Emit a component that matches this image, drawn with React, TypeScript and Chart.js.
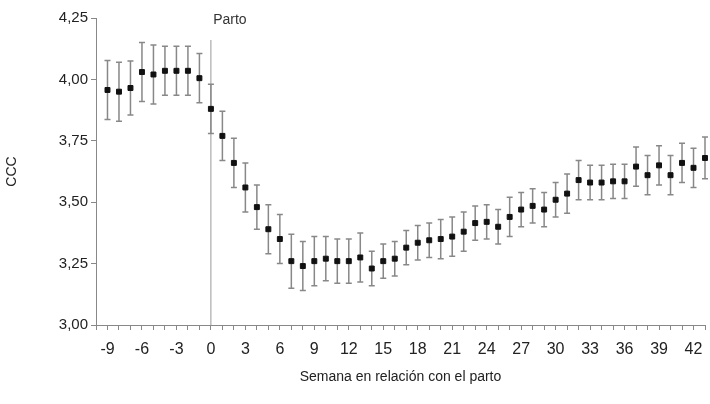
import React, { useEffect, useRef } from 'react';
import { Chart, registerables } from 'chart.js';

Chart.register(...registerables);

const weeks = Array.from({ length: 53 }, (_, i) => i - 9);
const ccc = [
  3.957, 3.95, 3.965, 4.03, 4.02, 4.035, 4.035, 4.035, 4.005,
  3.88, 3.77, 3.66, 3.56, 3.48, 3.39, 3.35, 3.26, 3.24, 3.26, 3.27, 3.26, 3.26, 3.275,
  3.23, 3.26, 3.27, 3.315, 3.335, 3.345, 3.35, 3.36, 3.38, 3.415, 3.42, 3.4, 3.44,
  3.47, 3.485, 3.47, 3.51, 3.535, 3.59, 3.58, 3.58, 3.585, 3.585, 3.645, 3.61, 3.65,
  3.61, 3.66, 3.64, 3.68,
];
const errs = [
  0.12, 0.12, 0.11, 0.12, 0.12, 0.1, 0.1, 0.1, 0.1,
  0.1, 0.1, 0.1, 0.1, 0.09, 0.1, 0.1, 0.11, 0.1, 0.1, 0.09, 0.09, 0.09, 0.1,
  0.07, 0.07, 0.07, 0.07, 0.07, 0.07, 0.08, 0.08, 0.08, 0.07, 0.07, 0.07, 0.08,
  0.07, 0.07, 0.07, 0.07, 0.08, 0.08, 0.07, 0.07, 0.07, 0.07, 0.08, 0.08, 0.08,
  0.08, 0.08, 0.08, 0.085,
];

const fontFamily = '"Liberation Sans", Arial, sans-serif';

const errorBars = {
  id: 'errorBars',
  beforeDatasetsDraw(chart: Chart) {
    const { ctx, scales } = chart;
    const x = scales.x;
    const y = scales.y;
    ctx.save();
    // Parto line
    ctx.strokeStyle = '#999';
    ctx.lineWidth = 1;
    ctx.beginPath();
    ctx.moveTo(x.getPixelForValue(0), 40);
    ctx.lineTo(x.getPixelForValue(0), y.bottom);
    ctx.stroke();
    ctx.fillStyle = '#333';
    ctx.font = `14px ${fontFamily}`;
    ctx.textAlign = 'center';
    ctx.fillText('Parto', x.getPixelForValue(0) + 19, 24);
    // error bars
    ctx.strokeStyle = '#888';
    ctx.lineWidth = 1.5;
    weeks.forEach((w, i) => {
      const px = x.getPixelForValue(w);
      const top = y.getPixelForValue(ccc[i] + errs[i]);
      const bot = y.getPixelForValue(ccc[i] - errs[i]);
      ctx.beginPath();
      ctx.moveTo(px, top);
      ctx.lineTo(px, bot);
      ctx.moveTo(px - 3, top);
      ctx.lineTo(px + 3, top);
      ctx.moveTo(px - 3, bot);
      ctx.lineTo(px + 3, bot);
      ctx.stroke();
    });
    ctx.restore();
  },
};

const App: React.FC = () => {
  const chartRef = useRef<HTMLCanvasElement>(null);
  const chartInstance = useRef<Chart>();

  useEffect(() => {
    document.body.style.margin = '0';
    if (chartRef.current) {
      chartInstance.current = new Chart(chartRef.current, {
        type: 'scatter',
        data: {
          datasets: [
            {
              data: weeks.map((w, i) => ({ x: w, y: ccc[i] })),
              pointStyle: 'rect',
              pointRadius: 3.5,
              backgroundColor: '#111',
              borderColor: '#111',
              clip: false,
            },
          ],
        },
        options: {
          animation: false,
          responsive: false,
          layout: { padding: { top: 18, right: 0, left: 0, bottom: 14 } },
          plugins: { legend: { display: false }, tooltip: { enabled: false } },
          scales: {
            x: {
              type: 'linear',
              min: -10,
              max: 43,
              afterFit: (s: any) => {
                s.height = 65;
                s.paddingRight = 0;
                s.paddingLeft = 0;
              },
              border: { color: '#888' },
              grid: { drawOnChartArea: false, drawTicks: true, tickLength: 5, color: '#888' },
              ticks: {
                stepSize: 1,
                autoSkip: false,
                maxRotation: 0,
                padding: 10,
                color: '#222',
                font: { family: fontFamily, size: 16 },
                callback: (v: any) => (Number(v) % 3 === 0 ? String(v) : ''),
              },
              title: {
                display: true,
                text: 'Semana en relación con el parto',
                color: '#222',
                font: { family: fontFamily, size: 14 },
                padding: { top: 6 },
              },
            },
            y: {
              min: 3,
              max: 4.25,
              afterFit: (s: any) => { s.width = 96; },
              border: { color: '#888' },
              grid: { drawOnChartArea: false, drawTicks: true, tickLength: 5, color: '#888' },
              ticks: {
                stepSize: 0.25,
                color: '#222',
                font: { family: fontFamily, size: 15 },
                callback: (v: any) => Number(v).toFixed(2).replace('.', ','),
              },
              title: {
                display: true,
                text: 'CCC',
                color: '#222',
                font: { family: fontFamily, size: 14 },
              },
            },
          },
        },
        plugins: [errorBars],
      });
    }
    return () => {
      if (chartInstance.current) chartInstance.current.destroy();
    };
  }, []);

  return <canvas ref={chartRef} width={710} height={404} style={{ display: 'block' }} />;
};

export default App;
